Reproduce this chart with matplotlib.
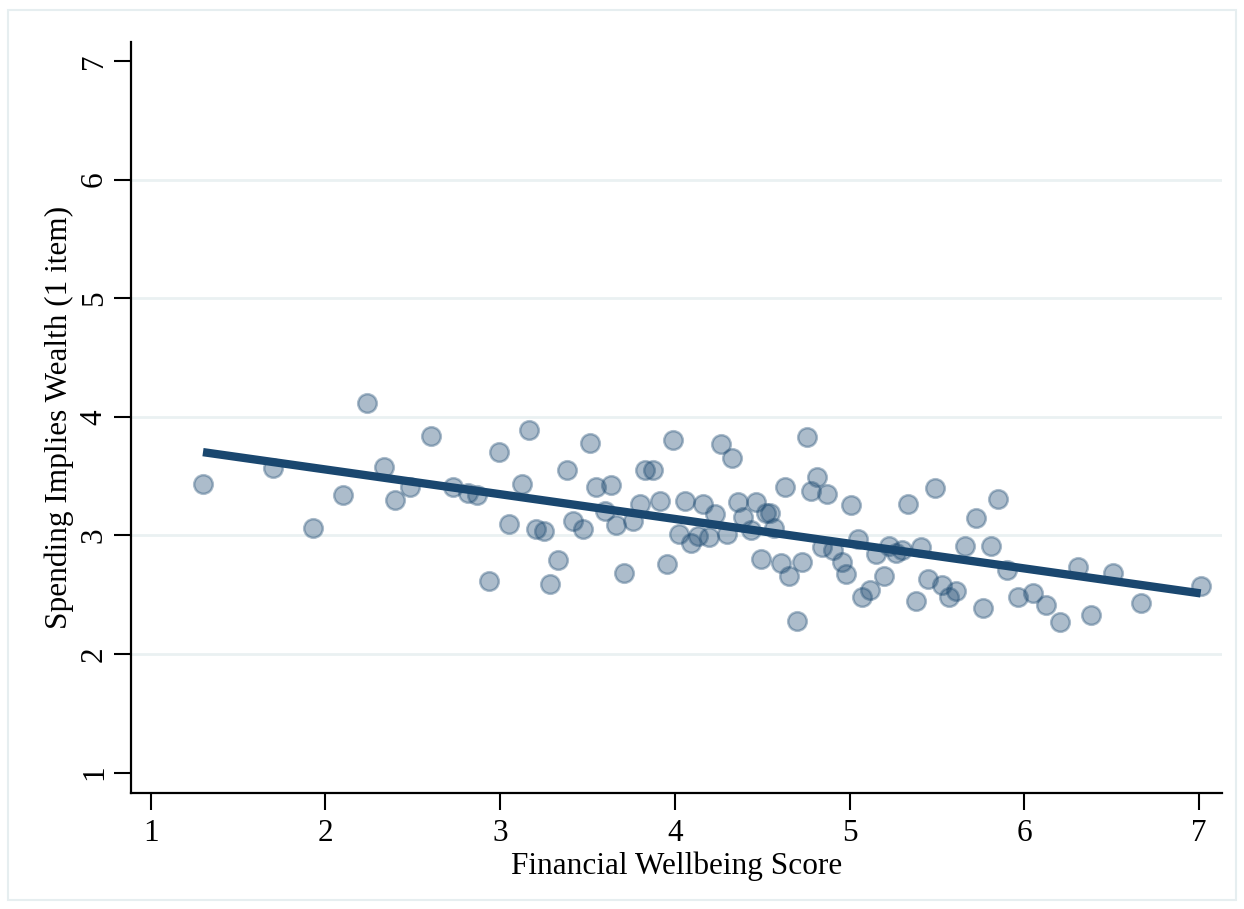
import numpy as np
import matplotlib
matplotlib.use("Agg")
import matplotlib.pyplot as plt
from matplotlib.patches import Rectangle

# Data
wellbeing = [1.299, 1.701, 1.929, 2.103, 2.236, 2.335, 2.400, 2.482, 2.603, 2.729,
             2.813, 2.869, 2.935, 2.992, 3.053, 3.123, 3.163, 3.206, 3.249, 3.286,
             3.333, 3.383, 3.419, 3.476, 3.514, 3.546, 3.598, 3.636, 3.665, 3.710,
             3.758, 3.800, 3.829, 3.872, 3.912, 3.954, 3.990, 4.021, 4.057, 4.091,
             4.133, 4.163, 4.196, 4.229, 4.265, 4.297, 4.329, 4.363, 4.392, 4.436,
             4.466, 4.495, 4.523, 4.545, 4.569, 4.607, 4.632, 4.653, 4.697, 4.727,
             4.754, 4.777, 4.811, 4.843, 4.870, 4.906, 4.954, 4.977, 5.007, 5.046,
             5.072, 5.118, 5.150, 5.194, 5.225, 5.263, 5.301, 5.333, 5.377, 5.411,
             5.446, 5.487, 5.531, 5.567, 5.611, 5.661, 5.722, 5.766, 5.809, 5.851,
             5.899, 5.966, 6.047, 6.123, 6.203, 6.309, 6.379, 6.505, 6.666, 7.009]
spending = [3.431, 3.566, 3.060, 3.343, 4.116, 3.579, 3.298, 3.411, 3.841, 3.406,
            3.355, 3.341, 2.618, 3.701, 3.096, 3.436, 3.889, 3.051, 3.040, 2.590,
            2.793, 3.549, 3.119, 3.051, 3.782, 3.406, 3.208, 3.425, 3.090, 2.680,
            3.124, 3.265, 3.551, 3.551, 3.293, 2.759, 3.804, 3.014, 3.293, 2.933,
            2.995, 3.262, 2.984, 3.178, 3.771, 3.009, 3.655, 3.284, 3.158, 3.046,
            3.284, 2.804, 3.186, 3.186, 3.060, 2.765, 3.406, 2.658, 2.276, 2.776,
            3.832, 3.374, 3.495, 2.905, 3.349, 2.877, 2.778, 2.675, 3.254, 2.967,
            2.483, 2.540, 2.843, 2.655, 2.913, 2.854, 2.877, 3.267, 2.447, 2.902,
            2.630, 3.397, 2.584, 2.483, 2.534, 2.911, 3.147, 2.390, 2.911, 3.304,
            2.711, 2.481, 2.517, 2.413, 2.270, 2.731, 2.329, 2.686, 2.430, 2.573]
fit_intercept = 3.973
fit_slope = -0.2086
x_ticks = [1, 2, 3, 4, 5, 6, 7]
y_ticks = [1, 2, 3, 4, 5, 6, 7]
grid_levels = [2, 3, 4, 5, 6]
x_label = "Financial Wellbeing Score"
y_label = "Spending Implies Wealth (1 item)"

navy = "#1a476f"

plt.rcParams['font.family'] = ['Liberation Serif', 'DejaVu Serif']

fig = plt.figure(figsize=(12.44, 9.09), dpi=100)
fig.patches.append(Rectangle((8/1244, 1 - 900/909), (1236-8)/1244, (900-10)/909,
                             transform=fig.transFigure, fill=False,
                             edgecolor="#e6eef0", linewidth=1.5))
ax = fig.add_axes([131/1244, 1 - 793/909, (1222-131)/1244, (793-42)/909])

for g in grid_levels:
    ax.axhline(g, color="#eaf1f2", linewidth=2, zorder=0)

ax.scatter(wellbeing, spending, s=180, facecolor=navy, edgecolor=navy,
           linewidth=1.8, alpha=0.36, zorder=2)

xs = np.array([min(wellbeing), max(wellbeing)])
ax.plot(xs, fit_intercept + fit_slope * xs, color=navy, linewidth=6,
        solid_capstyle='butt', zorder=3)

ax.set_xlim(0.887, 7.131)
ax.set_ylim(0.828, 7.16)
ax.set_xticks(x_ticks)
ax.set_yticks(y_ticks)
ax.set_yticklabels([str(v) for v in y_ticks], rotation=90, va='center')
ax.tick_params(axis='both', direction='out', length=12, width=1.5,
               labelsize=22.5, colors='black', pad=7)
ax.tick_params(axis='y', pad=4)
for side in ['top', 'right']:
    ax.spines[side].set_visible(False)
for side in ['left', 'bottom']:
    ax.spines[side].set_linewidth(1.6)
ax.set_xlabel(x_label, fontsize=22.5, labelpad=2)
ax.set_ylabel(y_label, fontsize=22.5, labelpad=4)

fig.savefig("out.png", dpi=100, facecolor="white")
